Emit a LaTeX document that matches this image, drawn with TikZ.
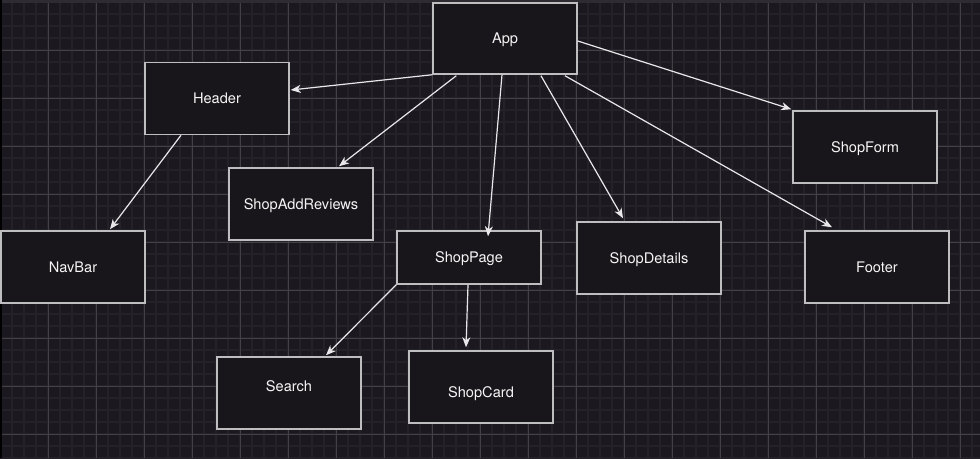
\documentclass[tikz,border=0pt]{standalone}
\usepackage{fontspec}
\setmainfont{TeX Gyre Heros}
\usetikzlibrary{arrows.meta}

\definecolor{canvasbg}{RGB}{27,25,31}
\definecolor{gridminor}{RGB}{36,34,40}
\definecolor{gridmajor}{RGB}{66,65,69}
\definecolor{topstrip}{RGB}{46,44,50}
\definecolor{boxfill}{RGB}{24,22,27}
\definecolor{boxline}{RGB}{190,190,192}
\definecolor{linkline}{RGB}{232,232,234}
\definecolor{labeltext}{RGB}{245,245,245}

\tikzset{
  comp/.style={draw=boxline, fill=boxfill, line width=1.5pt,
    minimum width=144pt, minimum height=72pt, inner sep=0pt,
    text depth=0pt, text=labeltext, font=\fontsize{14.6}{16}\selectfont},
  lbl/.style={text=labeltext, inner sep=0pt, text depth=0pt,
    font=\fontsize{14.6}{16}\selectfont},
  link/.style={draw=linkline, line width=1.2pt,
    -{Stealth[length=10pt, width=8pt, inset=3pt]}},
}

\begin{document}
\begin{tikzpicture}[x=1pt, y=-1pt]
  % canvas and grid
  \fill[canvasbg] (0,0) rectangle (980,458);
  \useasboundingbox (0,0) rectangle (980,458);
  \foreach \gx in {12,24,...,972} {
    \draw[gridminor, line width=1.6pt] (\gx,0) -- (\gx,458);
  }
  \foreach \gy in {14,26,...,458} {
    \draw[gridminor, line width=1.6pt] (0,\gy) -- (980,\gy);
  }
  \foreach \gx in {48,96,...,960} {
    \draw[gridmajor, line width=1pt] (\gx,0) -- (\gx,458);
  }
  \foreach \gy in {50,98,...,434} {
    \draw[gridmajor, line width=1pt] (0,\gy) -- (980,\gy);
  }
  \fill[topstrip] (0,0) rectangle (980,2.5);
  \fill[black] (0,0) rectangle (1.5,458);

  % components
  \node[comp, minimum height=71pt] (app) at (505,38.5) {App};
  \node[comp] (header) at (217,98.5) {Header};
  \node[comp] (reviews) at (301,204) {ShopAddReviews};
  \node[comp] (navbar) at (73,267) {NavBar};
  \node[comp, minimum height=53pt] (shoppage) at (469,257.5) {ShopPage};
  \node[comp] (details) at (649,258) {ShopDetails};
  \node[comp] (shopform) at (865,147) {ShopForm};
  \node[comp] (footer) at (877,267) {Footer};
  \node[comp] (search) at (289,393) {};
  \node[lbl] (searchtext) at ([shift={(0,-7)}]search.center) {Search};
  \node[comp] (shopcard) at (481,387) {};
  \node[lbl] (shopcardtext) at ([shift={(0,5.5)}]shopcard.center) {ShopCard};

  % links
  \draw[link] (app.south west) -- ([shift={(1,-8.5)}]header.east);
  \draw[link] ([shift={(24,1)}]app.south west) -- ([shift={(38,-1)}]reviews.north);
  \draw[link] ([shift={(-3,0)}]app.south) -- ([shift={(19,6)}]shoppage.north);
  \draw[link] ([shift={(36,1)}]app.south) -- ([shift={(-26,-3)}]details.north);
  \draw[link] ([shift={(60,1)}]app.south) -- ([shift={(-45,-3)}]footer.north);
  \draw[link] ([shift={(0,2.5)}]app.east) -- ([shift={(-1,-1)}]shopform.north west);
  \draw[link] ([shift={(-36,0)}]header.south) -- ([shift={(37,-1)}]navbar.north);
  \draw[link] (shoppage.south west) -- ([shift={(37,-1)}]search.north);
  \draw[link] ([shift={(-1,0)}]shoppage.south) -- ([shift={(-15,-3)}]shopcard.north);
\end{tikzpicture}
\end{document}
